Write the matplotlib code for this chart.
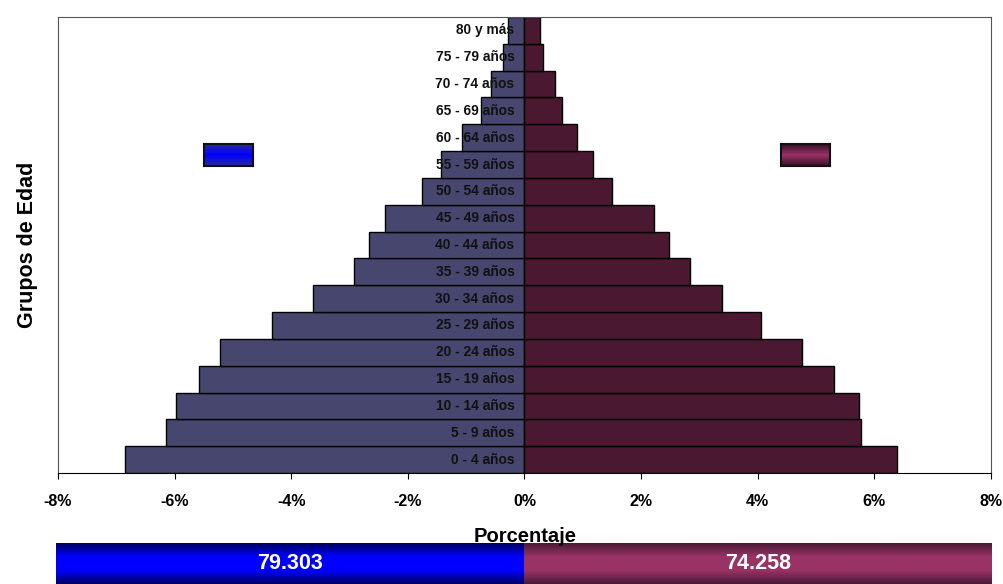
import numpy as np
import matplotlib.pyplot as plt
from matplotlib.colors import LinearSegmentedColormap

plt.rcParams['font.family'] = ['Liberation Sans', 'DejaVu Sans']

# Data
grupos = ['0 - 4 años', '5 - 9 años', '10 - 14 años', '15 - 19 años', '20 - 24 años',
          '25 - 29 años', '30 - 34 años', '35 - 39 años', '40 - 44 años', '45 - 49 años',
          '50 - 54 años', '55 - 59 años', '60 - 64 años', '65 - 69 años', '70 - 74 años',
          '75 - 79 años', '80 y más']
hombres = [6.85, 6.15, 5.98, 5.59, 5.23, 4.33, 3.63, 2.92, 2.67, 2.39,
           1.76, 1.43, 1.07, 0.75, 0.57, 0.37, 0.29]
mujeres = [6.39, 5.77, 5.73, 5.30, 4.76, 4.06, 3.39, 2.83, 2.48, 2.22,
           1.50, 1.18, 0.90, 0.65, 0.52, 0.31, 0.26]
totales = ['79.303', '74.258']
xticks = [-8, -6, -4, -2, 0, 2, 4, 6, 8]

col_h = '#46466e'
col_m = '#4a1830'
grad_azul = LinearSegmentedColormap.from_list('azul', ['#000060', '#0000ff', '#0000ff', '#000060'])
grad_rosa = LinearSegmentedColormap.from_list('rosa', ['#4a1a35', '#993366', '#993366', '#4a1a35'])
grad_azul_sw = LinearSegmentedColormap.from_list('azsw', ['#2a2aa0', '#0000ff', '#2a2aa0'])
grad_rosa_sw = LinearSegmentedColormap.from_list('rosw', ['#3a1028', '#993366', '#3a1028'])

fig = plt.figure(figsize=(10.04, 5.84), dpi=100)
ax = fig.add_axes([58 / 1004, 111 / 584, 933 / 1004, 456 / 584])

y = np.arange(len(grupos))
ax.barh(y, [-v for v in hombres], height=1.0, color=col_h, edgecolor='black', linewidth=1)
ax.barh(y, mujeres, height=1.0, color=col_m, edgecolor='black', linewidth=1)

for i, g in enumerate(grupos):
    ax.text(-0.17, i, g, ha='right', va='center', fontsize=9.9, fontweight='bold', color='#111111')

ax.set_xlim(-8, 8)
ax.set_ylim(-0.5, len(grupos) - 0.5)
ax.set_xticks(xticks)
ax.set_xticklabels([f'{t}%' for t in xticks], fontsize=11.5, fontweight='bold')
ax.tick_params(axis='x', direction='out', length=4, pad=11)
ax.set_yticks([])
for s in ['left', 'top', 'right']:
    ax.spines[s].set_color('#555555')
ax.spines['bottom'].set_color('black')
fig.text(525 / 1004, 1 - 536 / 584, 'Porcentaje', ha='center', va='center',
         fontsize=14.5, fontweight='bold')
fig.text(28 / 1004, 1 - 245 / 584, 'Grupos de Edad', rotation=90, ha='center', va='center',
         fontsize=15.5, fontweight='bold')

grad = np.linspace(0, 1, 100).reshape(-1, 1)

# legend swatches
for x0, cmap in [(204, grad_azul_sw), (781, grad_rosa_sw)]:
    sw = fig.add_axes([x0 / 1004, 1 - 166 / 584, 49 / 1004, 22 / 584])
    sw.imshow(grad, aspect='auto', cmap=cmap, extent=[0, 1, 0, 1])
    sw.set_xticks([])
    sw.set_yticks([])
    for s in sw.spines.values():
        s.set_linewidth(1.5)
        s.set_color('#111111')

# bottom band with totals
bx = fig.add_axes([56 / 1004, 0, 936 / 1004, 41 / 584])
bx.imshow(grad, aspect='auto', cmap=grad_azul, extent=[0, 1, 0, 1])
bx.imshow(grad, aspect='auto', cmap=grad_rosa, extent=[1, 2, 0, 1])
bx.set_xlim(0, 2)
bx.set_ylim(0, 1)
for i, t in enumerate(totales):
    bx.text(i + 0.5, 0.5, t, ha='center', va='center', color='white', fontsize=15.5, fontweight='bold')
bx.axis('off')

fig.savefig('out.png', dpi=100)
